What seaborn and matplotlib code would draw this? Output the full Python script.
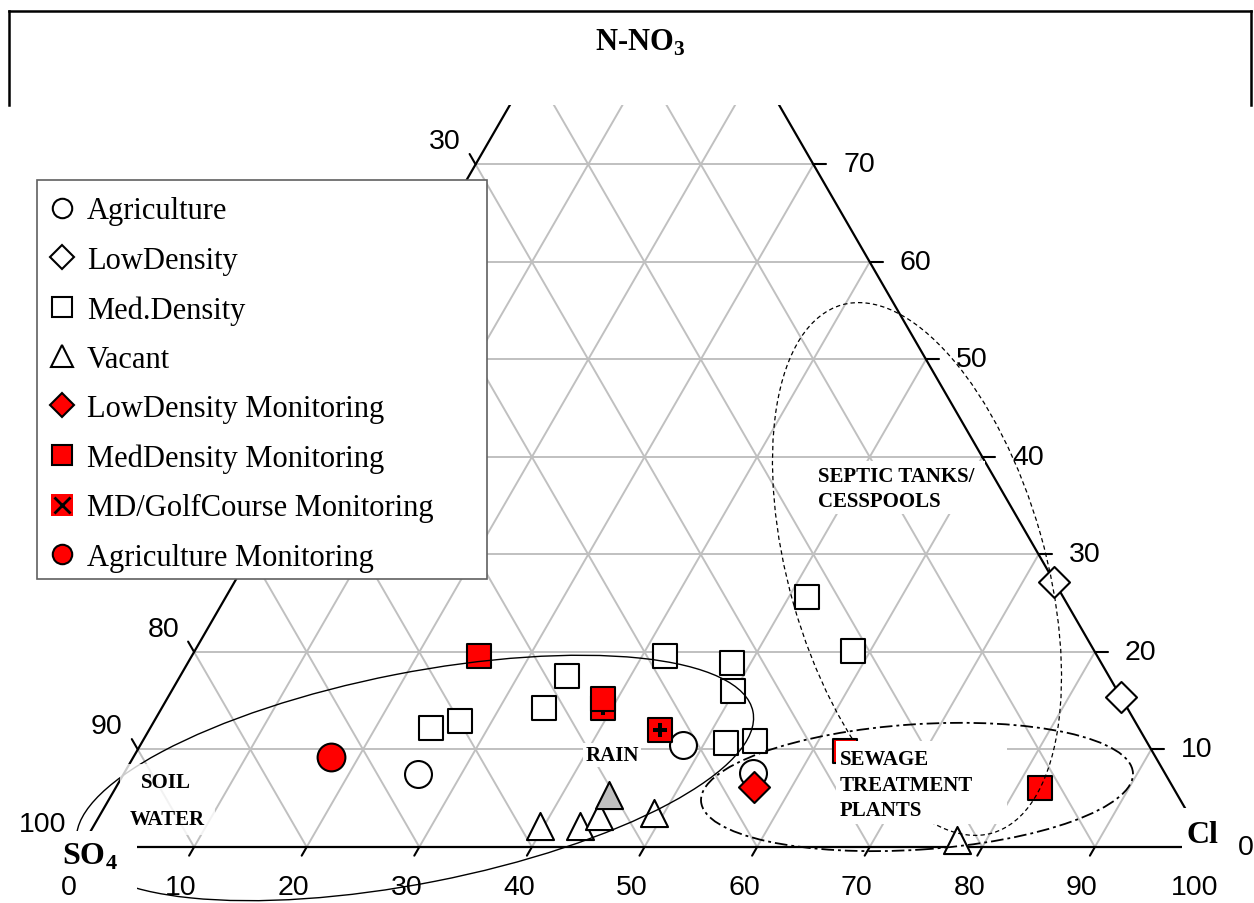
import numpy as np
import matplotlib
matplotlib.use("Agg")
import matplotlib.pyplot as plt
import seaborn as sns
from matplotlib.lines import Line2D
from matplotlib.patches import Ellipse, Rectangle

sns.set_theme(style="white")
plt.rcParams["font.family"] = ["Liberation Sans", "DejaVu Sans"]
plt.rcParams["text.color"] = "black"
plt.rcParams["mathtext.fontset"] = "custom"
plt.rcParams["mathtext.rm"] = "Liberation Serif"
plt.rcParams["mathtext.bf"] = "Liberation Serif:bold"

# ---------------- data : (Cl %, N-NO3 %), SO4 = 100 - Cl - N ----------------
series_names = ["Agriculture", "LowDensity", "Med.Density", "Vacant",
                "LowDensity Monitoring", "MedDensity Monitoring",
                "MD/GolfCourse Monitoring", "Agriculture Monitoring"]

agri_cl = [26.1, 48.2, 55.8]
agri_n = [7.5, 10.5, 7.6]

lowden_cl = [72.8, 84.6]
lowden_n = [27.2, 15.4]

medden_cl = [24.9, 27.2, 33.9, 34.4, 42.0, 48.3, 49.9, 51.9, 54.4, 51.6, 58.5]
medden_n = [12.2, 12.9, 14.3, 17.5, 19.6, 18.9, 16.0, 10.7, 10.9, 25.6, 20.1]

vacant_cl = [39.6, 43.2, 44.4, 49.1, 77.4]
vacant_n = [2.2, 2.2, 3.2, 3.5, 0.7]
vacant_gray_cl = [44.2]
vacant_gray_n = [5.3]

ldmon_cl = [56.6]
ldmon_n = [6.2]

mdmon_cl = [25.5, 38.7, 62.9, 82.1]
mdmon_n = [19.6, 15.2, 9.8, 6.1]

golf_cl = [45.4, 39.2]
golf_n = [12.0, 14.3]

agmon_cl = [17.6]
agmon_n = [9.2]

cl_ticks = [0, 10, 20, 30, 40, 50, 60, 70, 80, 90, 100]
n_ticks = [0, 10, 20, 30, 40, 50, 60, 70]
so4_labels = [100, 90, 80, 30]          # the others sit behind the legend
grid_steps = [10, 20, 30, 40, 50, 60, 70, 80, 90]

# ---------------- geometry ----------------
S3 = np.sqrt(3) / 2


def tern(cl, n):
    cl = np.asarray(cl, float)
    n = np.asarray(n, float)
    return cl + n / 2, n * S3


W, H, DPI = 1254, 904, 100
PX = 11.26            # pixels per percent
X0, Y0 = 81.5, 848.0  # pixel position of the SO4 corner
TOP = 106.0


def frompx(xp, yp):
    return (xp - X0) / PX, (Y0 - yp) / PX


fig = plt.figure(figsize=(W / DPI, H / DPI), dpi=DPI)
fig.patch.set_facecolor("white")
ax = fig.add_axes([0, 0, 1, (H - TOP) / H])
ax.axis("off")

# outer frame (top part)
fl = dict(color="black", lw=1.8, transform=fig.transFigure, solid_capstyle="projecting")
yt, yb = 1 - 12 / H, 1 - TOP / H
xl, xr = 9 / W, 1251 / W
fig.add_artist(Line2D([xl, xr], [yt, yt], **fl))
fig.add_artist(Line2D([xl, xl], [yt, yb], **fl))
fig.add_artist(Line2D([xr, xr], [yt, yb], **fl))

# grid
GRID = "#C0C0C0"
for k in grid_steps:
    for (c0, n0), (c1, n1) in [((0, k), (100 - k, k)),
                               ((k, 0), (k, 100 - k)),
                               ((100 - k, 0), (0, 100 - k))]:
        xs, ys = tern([c0, c1], [n0, n1])
        ax.plot(xs, ys, color=GRID, lw=1.4, zorder=2, solid_capstyle="butt")

# triangle edges
for (c0, n0), (c1, n1) in [((0, 0), (100, 0)), ((0, 0), (0, 100)), ((100, 0), (0, 100))]:
    xs, ys = tern([c0, c1], [n0, n1])
    ax.plot(xs, ys, color="black", lw=1.6, zorder=3)

# ticks and tick labels
tick = dict(color="black", lw=1.5, zorder=3)
tfont = dict(family="Liberation Sans", fontsize=20.5, zorder=9)
for v in cl_ticks:
    x, y = tern(v, 0)
    ax.plot([x, x - 0.5 * 10 / PX], [y, y - S3 * 10 / PX], **tick)
    ax.text(x - 13 / PX, y - 40 / PX, str(v), ha="center", va="center", **tfont)
for n in n_ticks:
    x, y = tern(100 - n, n)
    ax.plot([x, x + 13 / PX], [y, y], **tick)
    ax.text(x + 30 / PX, y, str(n), ha="left", va="center", **tfont)
    x, y = tern(0, n)
    ax.plot([x, x - 0.5 * 12 / PX], [y, y + S3 * 12 / PX], **tick)
    if 100 - n in so4_labels:
        ax.text(x - 15 / PX, y + 23 / PX, str(100 - n), ha="right", va="center", **tfont)

# field ellipses
ax.add_patch(Ellipse((29.62, 6.13), 61.17, 18.69, angle=11.1, fill=False,
                     ec="black", lw=1.0, zorder=6.5))
ax.add_patch(Ellipse((74.20, 24.69), 48.77, 22.79, angle=-74.1, fill=False,
                     ec="black", lw=0.9, ls=(0, (3.5, 2.5)), zorder=6.5))
ax.add_patch(Ellipse((74.20, 5.33), 38.44, 11.14, angle=3.76, fill=False,
                     ec="black", lw=1.3, ls=(0, (7, 2.2, 1.6, 2.2)), zorder=6.5))


# points
def pts(cl, n, marker, ms, fc, z, ec="black", lw=1.5):
    x, y = tern(cl, n)
    sns.scatterplot(x=x, y=y, marker=marker, s=ms ** 2, color=fc, edgecolor=ec,
                    linewidth=lw, zorder=z, ax=ax, legend=False)


RED = "#FF0000"
pts(agri_cl, agri_n, "o", 19.4, "white", 4)
pts(lowden_cl, lowden_n, "D", 15.8, "white", 4)
pts(medden_cl, medden_n, "s", 17, "white", 4)
pts(vacant_cl, vacant_n, "^", 19.5, "white", 4)
pts(vacant_gray_cl, vacant_gray_n, "^", 19.5, "#C0C0C0", 4)
pts(golf_cl, golf_n, "s", 17, RED, 5)
pts(golf_cl, golf_n, "P", 10, "black", 5.5, ec="black", lw=0)
pts(mdmon_cl, mdmon_n, "s", 17, RED, 6)
pts(ldmon_cl, ldmon_n, "D", 15.8, RED, 5)
pts(agmon_cl, agmon_n, "o", 20, RED, 5)

# white label backgrounds
for (xa, ya), (xb, yb2), alpha in [
        (frompx(47, 890), frompx(137, 832), 1.0),
        (frompx(1182, 858), frompx(1226, 809), 1.0),
        (frompx(120, 836), frompx(215, 765), 0.8),
        (frompx(583, 768), frompx(641, 744), 1.0),
        (frompx(812, 515), frompx(985, 462), 1.0),
        (frompx(836, 825), frompx(1007, 742), 1.0)]:
    ax.add_patch(Rectangle((xa, ya), xb - xa, yb2 - ya, fc="white", ec="none",
                           alpha=alpha, zorder=7))

lab = dict(family="Liberation Serif", weight="bold", fontsize=15, zorder=8)
ax.text(*frompx(166, 783), "SOIL", ha="center", va="center", **lab)
ax.text(*frompx(167, 820), "WATER", ha="center", va="center", **lab)
ax.text(*frompx(612, 756), "RAIN", ha="center", va="center", **lab)
ax.text(*frompx(818, 477), "SEPTIC TANKS/", ha="left", va="center", **lab)
ax.text(*frompx(818, 502), "CESSPOOLS", ha="left", va="center", **lab)
ax.text(*frompx(840, 760), "SEWAGE", ha="left", va="center", **lab)
ax.text(*frompx(840, 786), "TREATMENT", ha="left", va="center", **lab)
ax.text(*frompx(840, 811), "PLANTS", ha="left", va="center", **lab)

corner = dict(family="Liberation Serif", weight="bold", fontsize=23, zorder=8)
ax.text(*frompx(62, 865), r"SO$_\mathbf{4}$", ha="left", va="baseline", **corner)
ax.text(*frompx(1187, 843), "Cl", ha="left", va="baseline", **corner)

fig.text(640 / W, 1 - 51 / H, r"N-NO$_\mathbf{3}$", ha="center", va="baseline",
         family="Liberation Serif", weight="bold", fontsize=22)

# legend
handles = [
    Line2D([], [], ls="none", marker="o", mfc="white", mec="black", ms=14, mew=1.5),
    Line2D([], [], ls="none", marker="D", mfc="white", mec="black", ms=12, mew=1.5),
    Line2D([], [], ls="none", marker="s", mfc="white", mec="black", ms=14, mew=1.5),
    Line2D([], [], ls="none", marker="^", mfc="white", mec="black", ms=16, mew=1.5),
    Line2D([], [], ls="none", marker="D", mfc=RED, mec="black", ms=12, mew=1.5),
    Line2D([], [], ls="none", marker="s", mfc=RED, mec="black", ms=14, mew=1.5),
    (Line2D([], [], ls="none", marker="s", mfc=RED, mec=RED, ms=16, mew=0),
     Line2D([], [], ls="none", marker="x", color="black", ms=12, mew=2)),
    Line2D([], [], ls="none", marker="o", mfc=RED, mec="black", ms=14, mew=1.5),
]
ax.add_patch(Rectangle((37 / W, (H - 580) / (H - TOP)), 450 / W, 399 / (H - TOP),
                       transform=ax.transAxes, fc="white", ec="#606060", lw=1.2,
                       zorder=9.5, clip_on=False))
leg = ax.legend(handles, series_names, loc="upper left",
                bbox_to_anchor=(46.7 / W, (H - 197.5) / (H - TOP)),
                bbox_transform=ax.transAxes, frameon=False,
                prop={"family": "Liberation Serif", "size": 22},
                handlelength=1.0, handletextpad=0.32, borderpad=0,
                labelspacing=0.664, borderaxespad=0)
leg.set_zorder(10)

ax.set_xlim(-X0 / PX, (W - X0) / PX)
ax.set_ylim((Y0 - H) / PX, (Y0 - TOP) / PX)

fig.savefig("out.png", dpi=DPI)
